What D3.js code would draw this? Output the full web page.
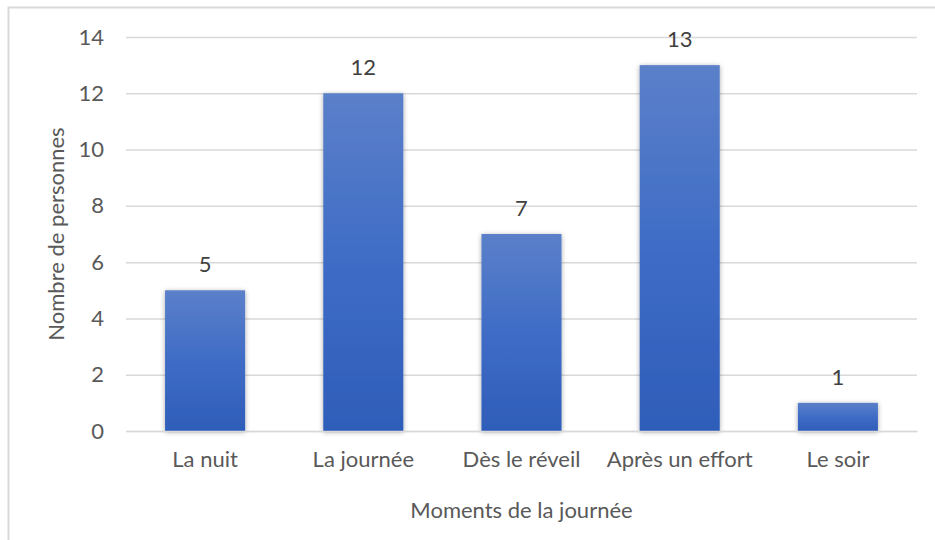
<!DOCTYPE html>
<html>
<head>
<meta charset="utf-8">
<script src="https://cdn.jsdelivr.net/npm/d3@7"></script>
<style>
  html, body { margin: 0; padding: 0; background: #fff; overflow: hidden; }
  svg { display: block; }
  svg text { font-family: Lato, "Open Sans", sans-serif; }
</style>
</head>
<body>
<svg id="chart" width="935" height="540"></svg>
<script>
const categories = ['La nuit', 'La journée', 'Dès le réveil', 'Après un effort', 'Le soir'];
const values = [5, 12, 7, 13, 1];
const yTicks = [0, 2, 4, 6, 8, 10, 12, 14];

const svg = d3.select('#chart');
const width = 935;
const height = 540;
const margin = { top: 37, right: 18, bottom: 109, left: 126 };
const innerWidth = width - margin.left - margin.right;
const innerHeight = height - margin.top - margin.bottom;

// chart frame (only left and top edges show in the crop)
svg.append('path')
    .attr('d', `M8.5,${height} L8.5,7.5 L${width},7.5`)
    .attr('fill', 'none')
    .attr('stroke', '#d9d9d9')
    .attr('stroke-width', 2);

const defs = svg.append('defs');
const grad = defs.append('linearGradient')
    .attr('id', 'barGrad')
    .attr('x1', 0).attr('y1', 0).attr('x2', 0).attr('y2', 1);
grad.append('stop').attr('offset', '0%').attr('stop-color', '#5b80c9');
grad.append('stop').attr('offset', '50%').attr('stop-color', '#3f6cc6');
grad.append('stop').attr('offset', '100%').attr('stop-color', '#2e5db9');

const shadow = defs.append('filter').attr('id', 'shadow')
    .attr('x', '-20%').attr('y', '-20%').attr('width', '140%').attr('height', '140%');
shadow.append('feDropShadow')
    .attr('dx', 0).attr('dy', 1).attr('stdDeviation', 2.5)
    .attr('flood-color', '#000').attr('flood-opacity', 0.35);

const xScale = d3.scaleBand()
    .domain(categories)
    .range([0, innerWidth])
    .paddingInner(0.494)
    .paddingOuter(0.247);
const yScale = d3.scaleLinear()
    .domain([0, 14])
    .range([innerHeight, 0]);

const g = svg.append('g')
    .attr('transform', `translate(${margin.left}, ${margin.top})`);

// gridlines
const yAxis = d3.axisLeft(yScale)
    .tickValues(yTicks)
    .tickSize(-innerWidth)
    .tickPadding(22);
const gY = g.append('g').call(yAxis);
gY.select('.domain').remove();
gY.selectAll('.tick line').attr('stroke', '#d9d9d9').attr('stroke-width', 1.5);
gY.selectAll('.tick text')
    .attr('fill', '#595959')
    .style('font-size', '22px');

g.selectAll('rect.bar')
    .data(values)
    .enter()
    .append('rect')
    .attr('class', 'bar')
    .attr('x', (d, i) => xScale(categories[i]))
    .attr('y', d => yScale(d))
    .attr('width', xScale.bandwidth())
    .attr('height', d => innerHeight - yScale(d))
    .attr('fill', 'url(#barGrad)')
    .attr('filter', 'url(#shadow)');

g.selectAll('text.label')
    .data(values)
    .enter()
    .append('text')
    .attr('class', 'label')
    .attr('x', (d, i) => xScale(categories[i]) + xScale.bandwidth() / 2)
    .attr('y', d => yScale(d) - 18)
    .attr('text-anchor', 'middle')
    .attr('fill', '#404040')
    .style('font-size', '22px')
    .text(d => d);

const xAxis = d3.axisBottom(xScale).tickSize(0).tickPadding(20);
const gX = g.append('g')
    .attr('transform', `translate(0, ${innerHeight})`)
    .call(xAxis);
gX.select('.domain')
    .attr('stroke', '#d9d9d9').attr('stroke-width', 1.5);
gX.selectAll('.tick text')
    .attr('fill', '#595959')
    .style('font-size', '22px');

g.append('text')
    .attr('text-anchor', 'middle')
    .attr('x', innerWidth / 2)
    .attr('y', innerHeight + 87)
    .attr('fill', '#595959')
    .style('font-size', '22px')
    .text('Moments de la journée');

g.append('text')
    .attr('text-anchor', 'middle')
    .attr('transform', `translate(${64 - margin.left}, ${innerHeight / 2}) rotate(-90)`)
    .attr('fill', '#595959')
    .style('font-size', '22px')
    .text('Nombre de personnes');
</script>
</body>
</html>
